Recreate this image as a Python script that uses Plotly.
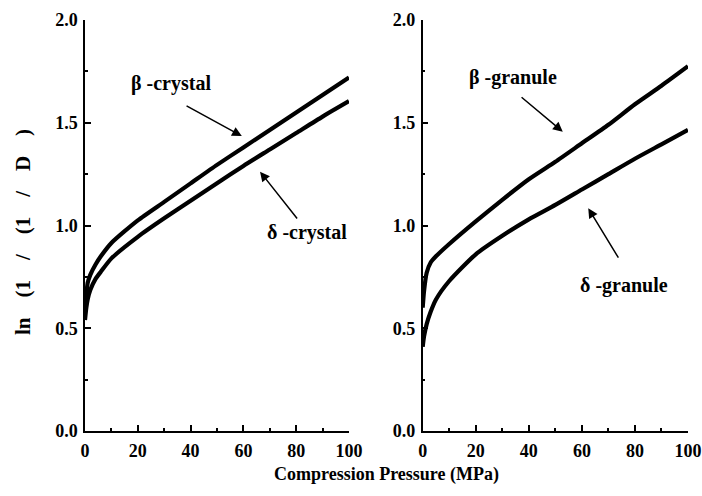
import plotly.graph_objects as go

# Left panel: crystals
p_crystal = [0, 0.5, 1, 2, 4, 6, 10, 20, 30, 40, 50, 60, 70, 80, 90, 100]
beta_crystal = [0.60, 0.66, 0.72, 0.76, 0.81, 0.85, 0.915, 1.025, 1.115, 1.205, 1.295, 1.38, 1.465, 1.55, 1.635, 1.72]
delta_crystal = [0.54, 0.60, 0.64, 0.686, 0.74, 0.775, 0.84, 0.945, 1.035, 1.12, 1.205, 1.29, 1.37, 1.45, 1.53, 1.605]

# Right panel: granules
p_granule = [0, 0.5, 1.5, 3, 5, 10, 20, 30, 40, 50, 60, 70, 80, 90, 100]
beta_granule = [0.60, 0.68, 0.77, 0.82, 0.85, 0.91, 1.02, 1.125, 1.225, 1.31, 1.40, 1.49, 1.59, 1.68, 1.775]
delta_granule = [0.41, 0.46, 0.52, 0.58, 0.64, 0.73, 0.86, 0.95, 1.03, 1.10, 1.175, 1.25, 1.325, 1.395, 1.465]

x_ticks = [0, 20, 40, 60, 80, 100]
y_ticks = [0.0, 0.5, 1.0, 1.5, 2.0]
y_tick_text = ["0.0", "0.5", "1.0", "1.5", "2.0"]

FONT = "Liberation Serif"
W, H = 702, 496

fig = go.Figure()
line = dict(color="black", width=4.2, shape="spline", smoothing=0.6)
fig.add_trace(go.Scatter(x=p_crystal, y=beta_crystal, mode="lines", line=line, xaxis="x", yaxis="y"))
fig.add_trace(go.Scatter(x=p_crystal, y=delta_crystal, mode="lines", line=line, xaxis="x", yaxis="y"))
fig.add_trace(go.Scatter(x=p_granule, y=beta_granule, mode="lines", line=line, xaxis="x2", yaxis="y2"))
fig.add_trace(go.Scatter(x=p_granule, y=delta_granule, mode="lines", line=line, xaxis="x2", yaxis="y2"))

tickfont = dict(family=FONT, size=18, color="black", weight="bold")

def xaxis(domain, anchor):
    return dict(domain=domain, anchor=anchor, range=[0, 100], tickvals=x_ticks,
                ticks="inside", ticklen=6, tickwidth=1.5, tickcolor="black",
                minor=dict(dtick=10, tick0=0, ticks="inside", ticklen=3, tickwidth=1.5, tickcolor="black"),
                showline=True, linecolor="black", linewidth=1.5, showgrid=False, zeroline=False,
                tickfont=tickfont, automargin=False, ticklabelstandoff=3)

def yaxis(anchor):
    return dict(domain=[(H - 431) / H, (H - 20) / H], anchor=anchor, range=[0, 2],
                tickvals=y_ticks, ticktext=y_tick_text,
                ticks="inside", ticklen=6, tickwidth=1.5, tickcolor="black",
                minor=dict(dtick=0.25, tick0=0, ticks="inside", ticklen=3, tickwidth=1.5, tickcolor="black"),
                showline=True, linecolor="black", linewidth=1.5, showgrid=False, zeroline=False,
                tickfont=tickfont, automargin=False, ticklabelstandoff=2)

fig.update_layout(
    width=W, height=H,
    margin=dict(l=0, r=0, t=0, b=0),
    paper_bgcolor="white", plot_bgcolor="white",
    showlegend=False,
    xaxis=xaxis([85 / W, 349 / W], "y"),
    yaxis=yaxis("x"),
    xaxis2=xaxis([422.7 / W, 688 / W], "y2"),
    yaxis2=yaxis("x2"),
)

labfont = dict(family=FONT, size=20, color="black")

def label(text, x, y, xref, yref):
    fig.add_annotation(text=text, x=x, y=y, xref=xref, yref=yref, showarrow=False,
                       font=labfont, xanchor="center", yanchor="middle")

def arrow(x0, y0, x1, y1, xref, yref):
    fig.add_annotation(x=x1, y=y1, ax=x0, ay=y0, xref=xref, yref=yref, axref=xref, ayref=yref,
                       text="", showarrow=True, arrowhead=2, arrowsize=1.3, arrowwidth=1.5,
                       arrowcolor="black")

label("<b>β -crystal</b>", 32.6, 1.693, "x", "y")
label("<b>δ -crystal</b>", 83.9, 0.968, "x", "y")
label("<b>β -granule</b>", 34.0, 1.718, "x2", "y2")
label("<b>δ -granule</b>", 75.9, 0.710, "x2", "y2")

arrow(37.9, 1.586, 59.4, 1.435, "x", "y")
arrow(80.8, 1.027, 66.3, 1.262, "x", "y")
arrow(36.7, 1.630, 52.8, 1.456, "x2", "y2")
arrow(74.1, 0.836, 62.4, 1.084, "x2", "y2")

fig.add_annotation(text="<b>Compression Pressure (MPa)</b>", x=386 / W, y=(H - 474) / H,
                   xref="paper", yref="paper", showarrow=False,
                   font=dict(family=FONT, size=18, color="black"),
                   xanchor="center", yanchor="middle")
sp = "\u00a0\u00a0\u00a0\u2009"
ylab = "ln" + sp + "(1" + sp + "/" + sp + "(1" + sp + "/" + sp + "D" + sp + ")"
fig.add_annotation(text="<b>" + ylab + "</b>", x=23 / W, y=(H - 232) / H,
                   xref="paper", yref="paper", showarrow=False,
                   font=dict(family=FONT, size=21, color="black"), textangle=-90,
                   xanchor="center", yanchor="middle")

fig.write_html("out.html")
